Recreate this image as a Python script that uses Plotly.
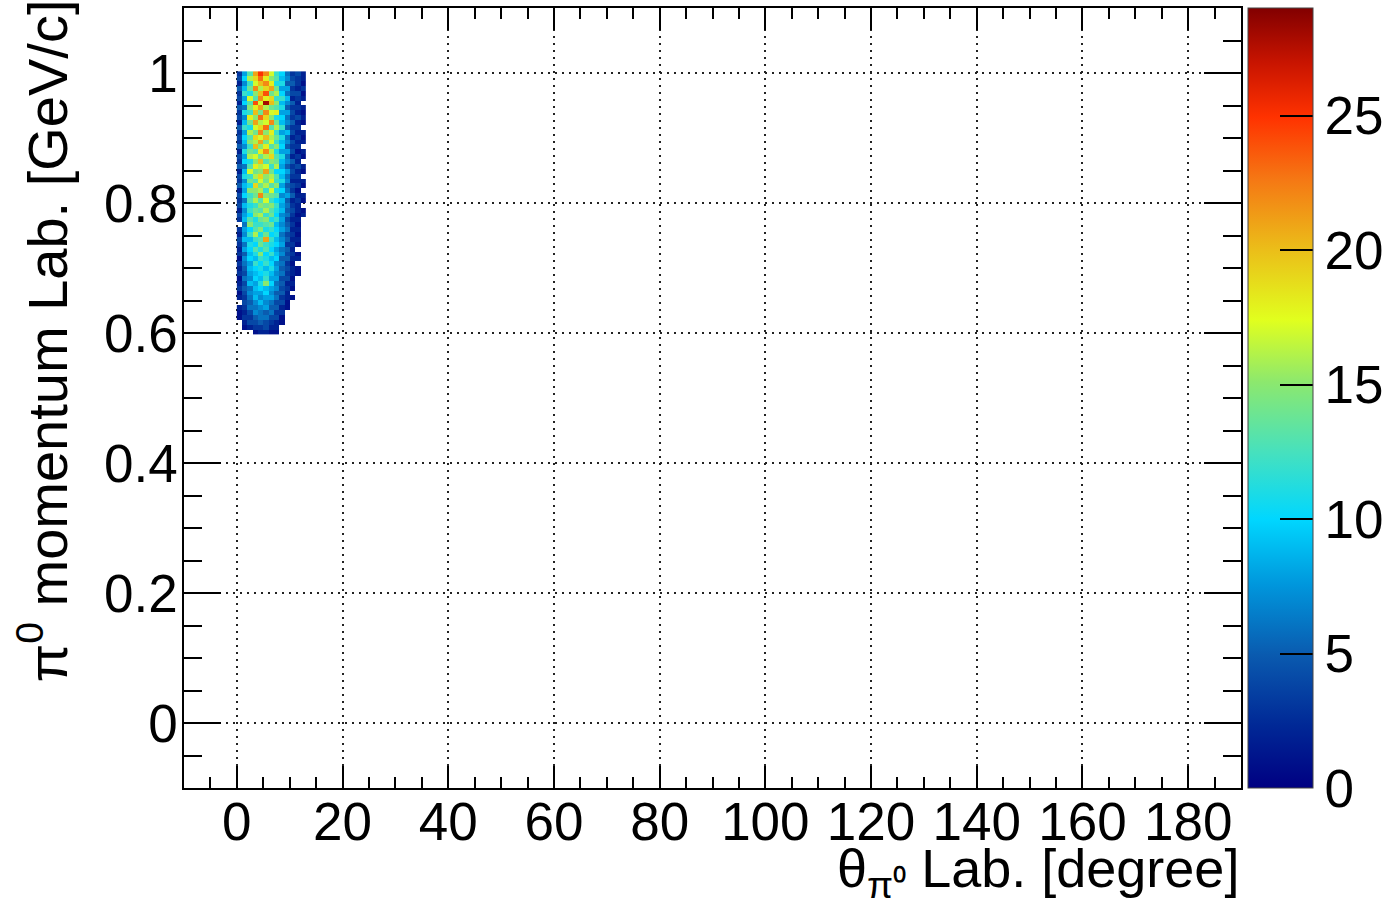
import numpy as np
import plotly.graph_objects as go

# Histogram binning: 1 degree in theta, 0.0075 GeV/c in momentum
theta_edges = list(range(0, 14))                      # 13 theta bins, 0..13 deg
p_low, p_step, n_p = 0.5975, 0.0075, 54               # 54 momentum bins

# Bin contents, one row per momentum bin, listed from the top (p ~ 1.0) downwards
counts = [
    [3, 8, 13, 21, 25, 22, 17, 12, 10, 6, 3, 4, 2],
    [4, 10, 16, 19, 23, 18, 15, 13, 9, 7, 4, 3, 2],
    [2, 7, 12, 17, 20, 22, 18, 11, 11, 5, 5, 3, 1],
    [5, 9, 14, 22, 16, 19, 21, 14, 8, 8, 3, 2, 3],
    [3, 12, 11, 15, 20, 24, 14, 16, 10, 6, 4, 4, 1],
    [4, 8, 17, 13, 22, 18, 19, 12, 12, 9, 2, 3, 2],
    [2, 10, 13, 24, 17, 28, 20, 15, 9, 7, 5, 2, 0],
    [5, 6, 15, 18, 21, 16, 14, 13, 11, 5, 3, 3, 2],
    [3, 11, 12, 20, 14, 22, 17, 18, 8, 8, 4, 2, 1],
    [4, 7, 18, 15, 23, 19, 15, 11, 10, 6, 3, 4, 2],
    [2, 9, 14, 21, 16, 17, 22, 14, 9, 7, 5, 2, 1],
    [5, 12, 11, 17, 19, 23, 13, 16, 12, 5, 3, 3, 0],
    [3, 8, 16, 14, 22, 15, 18, 12, 8, 9, 4, 2, 2],
    [4, 10, 13, 19, 17, 20, 16, 14, 11, 6, 2, 3, 1],
    [3, 9, 15, 16, 21, 14, 17, 12, 9, 7, 4, 2, 2],
    [5, 7, 12, 20, 15, 18, 13, 15, 10, 5, 3, 3, 0],
    [2, 11, 14, 13, 18, 22, 16, 11, 8, 8, 4, 1, 2],
    [4, 8, 16, 17, 14, 16, 19, 13, 11, 6, 2, 3, 1],
    [3, 10, 11, 15, 20, 13, 15, 14, 9, 7, 5, 2, 0],
    [5, 6, 13, 18, 16, 17, 12, 16, 8, 5, 3, 4, 2],
    [2, 9, 17, 14, 15, 21, 14, 10, 10, 8, 4, 2, 1],
    [4, 11, 12, 16, 19, 15, 16, 13, 9, 6, 3, 3, 0],
    [3, 7, 14, 13, 17, 14, 18, 12, 11, 7, 2, 2, 2],
    [5, 9, 11, 19, 14, 16, 13, 15, 8, 5, 4, 3, 1],
    [2, 8, 15, 15, 16, 12, 17, 11, 10, 6, 3, 1, 0],
    [4, 10, 12, 14, 22, 15, 14, 13, 7, 8, 5, 2, 2],
    [3, 6, 13, 16, 13, 17, 12, 10, 9, 5, 2, 3, 1],
    [4, 9, 11, 12, 15, 14, 15, 12, 8, 6, 3, 2, 0],
    [2, 7, 12, 14, 13, 16, 13, 11, 9, 5, 4, 2, 1],
    [4, 8, 10, 15, 16, 12, 14, 10, 7, 6, 3, 1, 2],
    [3, 9, 13, 11, 14, 15, 11, 12, 8, 4, 2, 2, 0],
    [0, 6, 15, 12, 12, 13, 14, 9, 7, 5, 3, 1, 0],
    [3, 8, 10, 13, 15, 11, 12, 10, 8, 6, 2, 2, 0],
    [2, 7, 12, 16, 11, 14, 10, 11, 6, 4, 3, 1, 0],
    [4, 9, 9, 12, 13, 21, 12, 9, 7, 5, 2, 2, 0],
    [3, 6, 11, 10, 14, 12, 11, 10, 8, 3, 3, 1, 0],
    [2, 8, 10, 13, 11, 13, 10, 8, 6, 5, 2, 0, 0],
    [3, 5, 9, 11, 15, 10, 12, 9, 7, 4, 3, 1, 0],
    [1, 7, 10, 9, 12, 11, 9, 10, 5, 5, 2, 2, 0],
    [3, 6, 8, 12, 10, 12, 10, 7, 6, 3, 1, 0, 0],
    [2, 5, 9, 10, 11, 9, 11, 8, 5, 4, 2, 1, 0],
    [3, 4, 8, 9, 10, 11, 9, 7, 6, 3, 2, 1, 0],
    [1, 6, 7, 10, 9, 12, 8, 8, 4, 4, 1, 0, 0],
    [2, 4, 9, 8, 11, 15, 10, 6, 5, 2, 2, 0, 0],
    [3, 5, 6, 9, 10, 9, 8, 7, 4, 3, 1, 0, 0],
    [1, 4, 7, 8, 8, 10, 7, 5, 5, 2, 0, 0, 0],
    [2, 3, 6, 9, 7, 8, 8, 6, 3, 2, 1, 0, 0],
    [0, 4, 5, 7, 9, 7, 6, 4, 4, 1, 0, 0, 0],
    [2, 3, 6, 6, 7, 8, 5, 5, 2, 1, 0, 0, 0],
    [1, 2, 4, 7, 6, 5, 6, 3, 3, 0, 0, 0, 0],
    [1, 3, 3, 5, 6, 6, 4, 4, 1, 0, 0, 0, 0],
    [0, 2, 4, 4, 5, 4, 3, 2, 1, 0, 0, 0, 0],
    [0, 1, 2, 3, 3, 4, 2, 2, 0, 0, 0, 0, 0],
    [0, 0, 0, 1, 2, 2, 1, 1, 0, 0, 0, 0, 0],
]

z_max = 29
cbar_ticks = [0, 5, 10, 15, 20, 25]
x_ticks = list(range(0, 181, 20))
y_ticks = [0, 0.2, 0.4, 0.6, 0.8, 1.0]

p_edges = [p_low + p_step * k for k in range(n_p + 1)]
z = np.array(counts[::-1], dtype=float)   # bottom row first for the heatmap
z[z == 0] = np.nan                         # empty bins are left blank

palette = [
    [0.00, "rgb(0,0,130)"],
    [0.08, "rgb(0,40,150)"],
    [0.17, "rgb(10,90,175)"],
    [0.26, "rgb(0,150,220)"],
    [0.345, "rgb(0,215,255)"],
    [0.43, "rgb(70,225,190)"],
    [0.52, "rgb(140,232,110)"],
    [0.60, "rgb(225,255,30)"],
    [0.69, "rgb(235,190,25)"],
    [0.78, "rgb(245,120,20)"],
    [0.86, "rgb(255,50,0)"],
    [0.93, "rgb(200,20,0)"],
    [1.00, "rgb(130,0,0)"],
]

FONT = "Liberation Sans, Arial, Helvetica, sans-serif"
TICK_SIZE = 53
XTITLE_SIZE = 54
YTITLE_SIZE = 56

fig = go.Figure(
    go.Heatmap(
        x=theta_edges,
        y=p_edges,
        z=z,
        zmin=0,
        zmax=z_max,
        colorscale=palette,
        hoverongaps=False,
        colorbar=dict(
            x=1.0066, xanchor="left", xpad=0,
            y=0.5, yanchor="middle", len=1.0, ypad=0,
            thickness=65,
            outlinewidth=1, outlinecolor="#444",
            tickmode="array", tickvals=cbar_ticks,
            ticks="inside", ticklen=33, tickwidth=1.5, tickcolor="black",
            tickfont=dict(family=FONT, size=TICK_SIZE, color="black"),
        ),
    )
)

axis_common = dict(
    showline=True, linecolor="black", linewidth=1.5, mirror="allticks",
    ticks="inside", tickwidth=1.5, tickcolor="black",
    showgrid=True, gridcolor="#222", gridwidth=2, griddash="2px,5px",
    zeroline=False,
    tickfont=dict(family=FONT, size=TICK_SIZE, color="black"),
)

fig.update_xaxes(
    range=[-10, 190], tickmode="array", tickvals=x_ticks, ticklen=22,
    ticklabelstandoff=-13,
    minor=dict(dtick=5, ticklen=11, ticks="inside", tickwidth=1.5,
               tickcolor="black", showgrid=False),
    **axis_common,
)
fig.update_yaxes(
    range=[-0.1, 1.1], tickmode="array", tickvals=y_ticks,
    ticktext=["0", "0.2", "0.4", "0.6", "0.8", "1"], ticklen=37,
    ticklabelstandoff=-6,
    minor=dict(dtick=0.05, tick0=0, ticklen=18, ticks="inside", tickwidth=1.5,
               tickcolor="black", showgrid=False),
    **axis_common,
)

fig.add_annotation(
    text="θ<sub>π⁰</sub> Lab. [degree]",
    xref="paper", yref="paper", x=1.0, y=-0.108,
    xanchor="right", yanchor="middle", showarrow=False,
    font=dict(family=FONT, size=XTITLE_SIZE, color="black"),
)
fig.add_annotation(
    text="π<sup>0</sup> momentum Lab. [GeV/c]",
    xref="paper", yref="paper", x=-0.133, y=0.573,
    xanchor="center", yanchor="middle", textangle=-90, showarrow=False,
    font=dict(family=FONT, size=YTITLE_SIZE, color="black"),
)

fig.update_layout(
    width=1389, height=914,
    margin=dict(l=184, r=148, t=8, b=126, autoexpand=False),
    paper_bgcolor="white", plot_bgcolor="white",
    font=dict(family=FONT, color="black"),
)

fig.write_html("out.html")
